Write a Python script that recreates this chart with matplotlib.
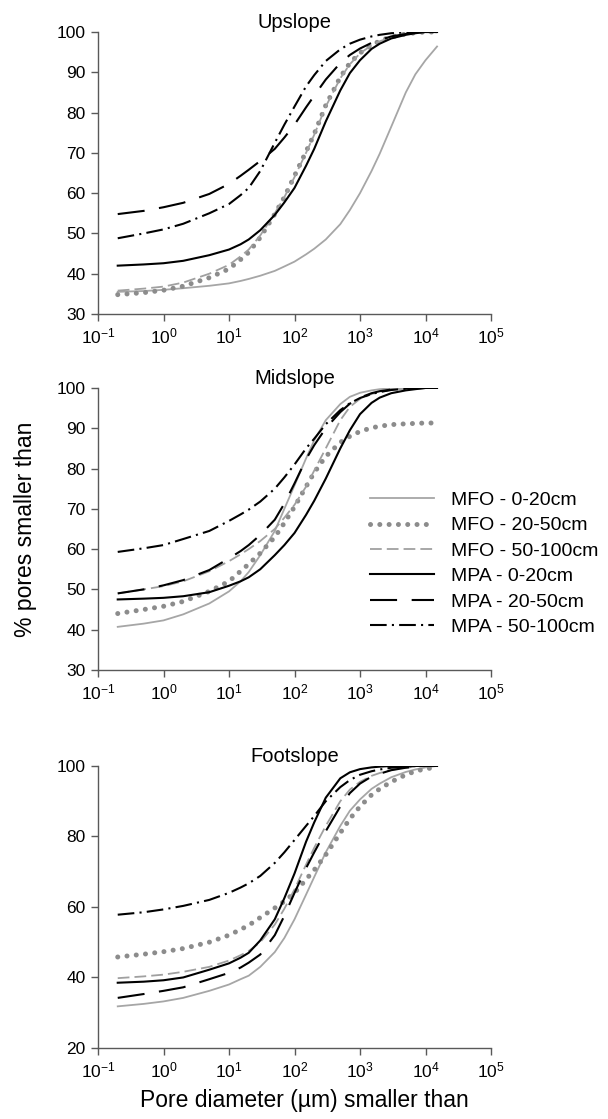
import matplotlib
matplotlib.use("Agg")
import matplotlib.pyplot as plt

plt.rcParams['font.family'] = ['Liberation Sans', 'DejaVu Sans']
plt.rcParams['mathtext.fontset'] = 'custom'
plt.rcParams['mathtext.rm'] = 'Liberation Sans'
plt.rcParams['mathtext.default'] = 'regular'

# pore diameter (um) where the curves were read
diameter = [0.2, 0.5, 1, 2, 5, 10, 15, 20, 30, 50, 70, 100, 150, 200, 300,
            500, 700, 1000, 1500, 2000, 3000, 5000, 7000, 10000, 15000]

series_names = ["MFO - 0-20cm", "MFO - 20-50cm", "MFO - 50-100cm",
                "MPA - 0-20cm", "MPA - 20-50cm", "MPA - 50-100cm"]

# Upslope (% pores smaller than)
up_mfo_0_20 = [35.5, 35.7, 36.0, 36.4, 37.0, 37.6, 38.2, 38.7, 39.5, 40.7, 41.8, 43.0, 44.8,
               46.2, 48.5, 52.3, 55.8, 60.0, 65.5, 69.8, 76.5, 85.0, 89.5, 93.0, 96.4]
up_mfo_20_50 = [34.8, 35.3, 35.9, 36.9, 39.0, 41.2, 43.5, 45.3, 49.0, 54.8, 59.0, 64.3, 70.3,
                74.7, 81.8, 88.8, 92.3, 94.8, 96.7, 97.8, 98.8, 99.5, 99.8, 100, 100]
up_mfo_50_100 = [35.8, 36.3, 36.8, 37.8, 40.0, 42.2, 44.3, 46.0, 49.5, 55.0, 59.0, 64.0, 70.0,
                 74.5, 81.5, 88.5, 92.0, 94.7, 96.7, 97.7, 98.7, 99.4, 99.7, 100, 100]
up_mpa_0_20 = [42.0, 42.3, 42.6, 43.2, 44.6, 46.0, 47.3, 48.5, 50.8, 54.6, 57.7, 61.3, 66.8,
               71.0, 77.8, 85.5, 89.8, 93.0, 95.8, 97.1, 98.4, 99.3, 99.7, 100, 100]
up_mpa_20_50 = [54.8, 55.6, 56.5, 57.6, 59.8, 62.3, 64.3, 65.8, 68.0, 71.0, 73.8, 77.0, 81.3,
                84.2, 88.2, 92.3, 94.3, 95.9, 97.3, 98.0, 98.9, 99.5, 99.8, 100, 100]
up_mpa_50_100 = [48.8, 50.0, 51.0, 52.4, 55.0, 57.3, 59.5, 61.3, 65.5, 72.5, 77.0, 81.5, 86.5,
                 89.3, 92.8, 95.7, 97.1, 98.1, 98.9, 99.3, 99.7, 99.9, 100, 100, 100]

# Midslope
mid_mfo_0_20 = [40.7, 41.5, 42.3, 43.8, 46.5, 49.5, 52.0, 54.3, 58.5, 64.5, 70.0, 75.8, 82.5,
                87.0, 92.0, 96.0, 97.8, 98.8, 99.4, 99.7, 99.9, 100, 100, 100, 100]
mid_mfo_20_50 = [44.0, 45.0, 45.8, 47.0, 49.5, 52.0, 54.5, 56.3, 59.0, 63.0, 66.5, 70.5, 75.5,
                 79.0, 83.0, 86.5, 88.0, 89.2, 90.1, 90.5, 90.9, 91.1, 91.2, 91.3, 91.3]
mid_mfo_50_100 = [49.0, 50.0, 50.8, 52.0, 54.5, 57.0, 58.7, 60.0, 62.0, 65.0, 67.8, 71.0, 75.5,
                  79.5, 85.0, 92.0, 95.3, 97.3, 98.5, 99.0, 99.5, 99.8, 99.9, 100, 100]
mid_mpa_0_20 = [47.5, 47.7, 47.9, 48.3, 49.3, 50.9, 52.0, 53.0, 55.0, 58.5, 61.0, 64.0, 68.5,
                72.0, 77.5, 85.0, 89.5, 93.5, 96.3, 97.6, 98.7, 99.4, 99.7, 100, 100]
mid_mpa_20_50 = [49.0, 50.0, 51.0, 52.3, 54.8, 57.7, 59.5, 61.0, 63.5, 67.3, 71.3, 76.3, 82.3,
                 85.8, 90.0, 94.0, 96.1, 97.6, 98.7, 99.2, 99.6, 99.9, 100, 100, 100]
mid_mpa_50_100 = [59.3, 60.2, 61.0, 62.5, 64.5, 67.0, 68.6, 69.8, 71.8, 75.0, 77.8, 81.0, 85.0,
                  87.4, 91.0, 94.5, 96.2, 97.5, 98.5, 99.0, 99.5, 99.8, 99.9, 100, 100]

# Footslope
foot_mfo_0_20 = [31.8, 32.5, 33.2, 34.2, 36.2, 38.0, 39.5, 40.5, 43.0, 47.2, 51.2, 56.5, 63.5,
                 68.5, 75.5, 83.0, 87.3, 90.5, 93.5, 95.0, 96.8, 98.3, 99.0, 99.6, 100]
foot_mfo_20_50 = [45.8, 46.6, 47.3, 48.2, 50.0, 52.0, 53.6, 54.8, 57.0, 59.7, 61.6, 64.0, 67.8,
                  70.5, 74.8, 81.0, 85.0, 88.5, 91.8, 93.5, 95.5, 97.5, 98.5, 99.2, 99.6]
foot_mfo_50_100 = [39.8, 40.3, 40.8, 41.6, 43.0, 44.8, 46.3, 47.5, 50.0, 55.0, 59.5, 65.0, 72.0,
                   76.8, 83.0, 90.0, 93.3, 95.5, 97.2, 98.0, 98.9, 99.5, 99.8, 100, 100]
foot_mpa_0_20 = [38.5, 38.8, 39.2, 40.0, 42.2, 44.0, 45.6, 47.0, 50.5, 56.5, 62.5, 69.5, 78.5,
                 84.0, 91.0, 96.5, 98.2, 99.1, 99.6, 99.8, 100, 100, 100, 100, 100]
foot_mpa_20_50 = [34.2, 35.3, 36.2, 37.2, 39.5, 41.3, 42.8, 44.2, 46.5, 52.0, 57.5, 64.0, 71.0,
                  75.5, 81.5, 88.5, 92.3, 95.0, 97.0, 97.8, 98.8, 99.5, 99.8, 100, 100]
foot_mpa_50_100 = [57.8, 58.5, 59.3, 60.3, 62.0, 64.0, 65.5, 66.7, 68.8, 72.5, 75.5, 79.0, 83.0,
                   85.8, 90.0, 94.0, 96.0, 97.5, 98.5, 99.0, 99.5, 99.8, 100, 100, 100]

panels = [
    ("Upslope", [up_mfo_0_20, up_mfo_20_50, up_mfo_50_100, up_mpa_0_20, up_mpa_20_50, up_mpa_50_100], (30, 100), 10),
    ("Midslope", [mid_mfo_0_20, mid_mfo_20_50, mid_mfo_50_100, mid_mpa_0_20, mid_mpa_20_50, mid_mpa_50_100], (30, 100), 10),
    ("Footslope", [foot_mfo_0_20, foot_mfo_20_50, foot_mfo_50_100, foot_mpa_0_20, foot_mpa_20_50, foot_mpa_50_100], (20, 100), 20),
]

styles = [
    dict(color="#a6a6a6", lw=1.3, ls="-"),
    dict(color="#8c8c8c", lw=3.6, ls=(0, (0.01, 1.85)), dash_capstyle="round"),
    dict(color="#a0a0a0", lw=1.3, ls=(0, (6.5, 2.8))),
    dict(color="black", lw=1.5, ls="-"),
    dict(color="black", lw=1.5, ls=(0, (13, 7))),
    dict(color="black", lw=1.5, ls=(0, (8, 2.5, 1, 2.5))),
]

fig = plt.figure(figsize=(6.08, 11.19), dpi=100)
bottoms = [0.7194, 0.4013, 0.0635]
decades = [10.0 ** k for k in range(-1, 6)]
dec_labels = ["$10^{%d}$" % k for k in range(-1, 6)]

axes = []
for (title, curves, ylim, ystep), b in zip(panels, bottoms):
    ax = fig.add_axes([0.1612, b, 0.6464, 0.252])
    for y, st, name in zip(curves, styles, series_names):
        ax.plot(diameter, y, label=name, **st)
    ax.set_xscale("log")
    ax.set_xlim(0.1, 1e5)
    ax.set_ylim(*ylim)
    ax.set_xticks(decades)
    ax.set_xticklabels(dec_labels)
    ax.minorticks_off()
    ax.set_yticks(range(ylim[0], 101, ystep))
    for s in ["top", "right"]:
        ax.spines[s].set_visible(False)
    for s in ["left", "bottom"]:
        ax.spines[s].set_color("#595959")
        ax.spines[s].set_linewidth(1.0)
    ax.tick_params(direction="out", length=5, width=1.0, color="#595959",
                   labelsize=12.5, pad=4)
    ax.set_title(title, fontsize=14.5, pad=3)
    axes.append(ax)

axes[1].set_ylabel("% pores smaller than", fontsize=16.5, labelpad=14)
fig.text(0.5, 1 - 1101 / 1119, "Pore diameter (µm) smaller than",
         fontsize=16.5, ha="center", va="center")

axes[1].legend(loc="upper left", bbox_to_anchor=(0.691, 0.633), frameon=False,
               fontsize=14, handlelength=3.3, handletextpad=0.9,
               labelspacing=0.4, borderpad=0, borderaxespad=0)

fig.savefig("out.png", dpi=100)
